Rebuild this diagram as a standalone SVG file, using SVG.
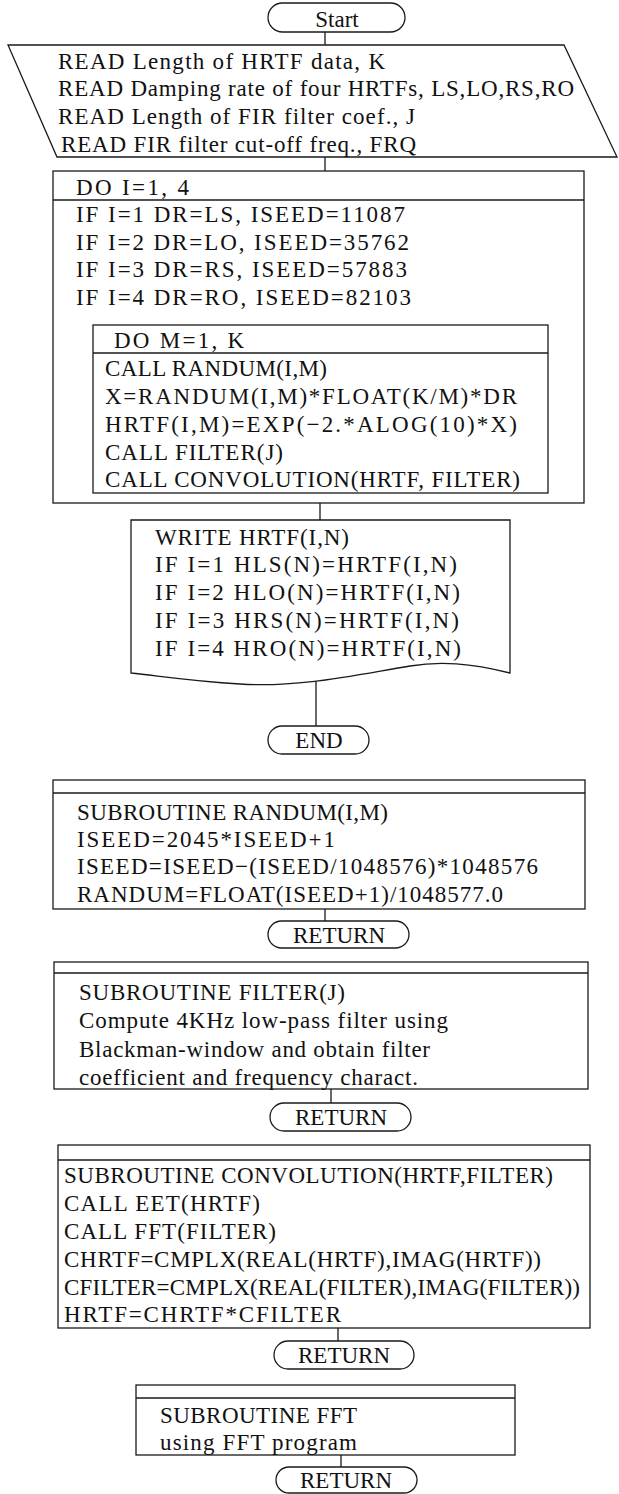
<svg xmlns="http://www.w3.org/2000/svg" width="619" height="1494" viewBox="0 0 619 1494">
<style>
.s{fill:none;stroke:#1a1a1a;stroke-width:1.3}
.w{fill:#fff;stroke:#1a1a1a;stroke-width:1.3}
text{font-family:"Liberation Serif","Times New Roman",serif;font-size:23px;fill:#111}
.m{text-anchor:middle}
</style>
<rect width="619" height="1494" fill="#fff"/>
<g id="connectors" class="s">
<line x1="325" y1="32" x2="325" y2="45"/>
<line x1="325" y1="157" x2="325" y2="171"/>
<line x1="320" y1="503" x2="320" y2="520"/>
<line x1="316" y1="678" x2="316" y2="726"/>
<line x1="325" y1="909" x2="325" y2="921"/>
<line x1="331" y1="1089" x2="331" y2="1103"/>
<line x1="338" y1="1328" x2="338" y2="1341"/>
<line x1="341" y1="1455" x2="341" y2="1467"/>
</g>
<g id="start">
<rect class="w" x="268" y="3" width="137" height="29" rx="14.5"/>
<text class="m" x="337" y="27">Start</text>
</g>
<g id="read">
<polygon class="w" points="8,45 564,45 617,157 57,157"/>
<text x="58" y="69" textLength="327" lengthAdjust="spacing">READ Length of HRTF data, K</text>
<text x="58" y="96" textLength="516" lengthAdjust="spacing">READ Damping rate of four HRTFs, LS,LO,RS,RO</text>
<text x="58" y="124" textLength="357" lengthAdjust="spacing">READ Length of FIR filter coef., J</text>
<text x="61" y="152" textLength="355" lengthAdjust="spacing">READ FIR filter cut-off freq., FRQ</text>
</g>
<g id="loopI">
<rect class="w" x="53" y="171" width="531" height="332"/>
<line class="s" x1="53" y1="200" x2="584" y2="200"/>
<text x="76" y="195" textLength="113" lengthAdjust="spacing">DO I=1, 4</text>
<text x="76" y="222" textLength="329" lengthAdjust="spacing">IF I=1 DR=LS, ISEED=11087</text>
<text x="76" y="250" textLength="333" lengthAdjust="spacing">IF I=2 DR=LO, ISEED=35762</text>
<text x="76" y="277" textLength="331" lengthAdjust="spacing">IF I=3 DR=RS, ISEED=57883</text>
<text x="76" y="305" textLength="335" lengthAdjust="spacing">IF I=4 DR=RO, ISEED=82103</text>
</g>
<g id="loopM">
<rect class="w" x="93" y="325" width="455" height="168"/>
<line class="s" x1="93" y1="353" x2="548" y2="353"/>
<text x="114" y="348" textLength="130" lengthAdjust="spacing">DO M=1, K</text>
<text x="105" y="376" textLength="222" lengthAdjust="spacing">CALL RANDUM(I,M)</text>
<text x="105" y="404" textLength="412" lengthAdjust="spacing">X=RANDUM(I,M)*FLOAT(K/M)*DR</text>
<text x="105" y="432" textLength="412" lengthAdjust="spacing">HRTF(I,M)=EXP(−2.*ALOG(10)*X)</text>
<text x="105" y="460" textLength="178" lengthAdjust="spacing">CALL FILTER(J)</text>
<text x="105" y="487" textLength="415" lengthAdjust="spacing">CALL CONVOLUTION(HRTF, FILTER)</text>
</g>
<g id="write">
<path class="w" d="M131,520 H510 V673 C470,663 440,661 410,666 C360,674 300,688 240,684 C190,681 160,676 131,673 Z"/>
<text x="155" y="545" textLength="194" lengthAdjust="spacing">WRITE HRTF(I,N)</text>
<text x="155" y="572" textLength="302" lengthAdjust="spacing">IF I=1 HLS(N)=HRTF(I,N)</text>
<text x="155" y="600" textLength="305" lengthAdjust="spacing">IF I=2 HLO(N)=HRTF(I,N)</text>
<text x="155" y="628" textLength="304" lengthAdjust="spacing">IF I=3 HRS(N)=HRTF(I,N)</text>
<text x="155" y="656" textLength="306" lengthAdjust="spacing">IF I=4 HRO(N)=HRTF(I,N)</text>
</g>
<g id="end">
<rect class="w" x="268" y="726" width="101" height="28" rx="14"/>
<text class="m" x="319" y="748">END</text>
</g>
<g id="randum">
<rect class="w" x="53" y="780" width="532" height="129"/>
<line class="s" x1="53" y1="793" x2="585" y2="793"/>
<text x="77" y="820" textLength="311" lengthAdjust="spacing">SUBROUTINE RANDUM(I,M)</text>
<text x="77" y="847" textLength="258" lengthAdjust="spacing">ISEED=2045*ISEED+1</text>
<text x="77" y="874" textLength="461" lengthAdjust="spacing">ISEED=ISEED−(ISEED/1048576)*1048576</text>
<text x="77" y="902" textLength="426" lengthAdjust="spacing">RANDUM=FLOAT(ISEED+1)/1048577.0</text>
</g>
<g id="return1">
<rect class="w" x="268" y="921" width="141" height="27" rx="13.5"/>
<text class="m" x="339" y="943">RETURN</text>
</g>
<g id="filter">
<rect class="w" x="54" y="962" width="534" height="127"/>
<line class="s" x1="54" y1="973" x2="588" y2="973"/>
<text x="79" y="1000" textLength="266" lengthAdjust="spacing">SUBROUTINE FILTER(J)</text>
<text x="79" y="1028" textLength="369" lengthAdjust="spacing">Compute 4KHz low-pass filter using</text>
<text x="79" y="1057" textLength="351" lengthAdjust="spacing">Blackman-window and obtain filter</text>
<text x="79" y="1085" textLength="339" lengthAdjust="spacing">coefficient and frequency charact.</text>
</g>
<g id="return2">
<rect class="w" x="270" y="1103" width="141" height="28" rx="14"/>
<text class="m" x="341" y="1125">RETURN</text>
</g>
<g id="convolution">
<rect class="w" x="58" y="1145" width="532" height="183"/>
<line class="s" x1="58" y1="1160" x2="590" y2="1160"/>
<text x="64" y="1183" textLength="489" lengthAdjust="spacing">SUBROUTINE CONVOLUTION(HRTF,FILTER)</text>
<text x="64" y="1211" textLength="196" lengthAdjust="spacing">CALL EET(HRTF)</text>
<text x="64" y="1239" textLength="212" lengthAdjust="spacing">CALL FFT(FILTER)</text>
<text x="64" y="1267" textLength="477" lengthAdjust="spacing">CHRTF=CMPLX(REAL(HRTF),IMAG(HRTF))</text>
<text x="64" y="1295" textLength="516" lengthAdjust="spacing">CFILTER=CMPLX(REAL(FILTER),IMAG(FILTER))</text>
<text x="64" y="1322" textLength="277" lengthAdjust="spacing">HRTF=CHRTF*CFILTER</text>
</g>
<g id="return3">
<rect class="w" x="274" y="1341" width="140" height="28" rx="14"/>
<text class="m" x="344" y="1363">RETURN</text>
</g>
<g id="fft">
<rect class="w" x="136" y="1385" width="379" height="70"/>
<line class="s" x1="136" y1="1398" x2="515" y2="1398"/>
<text x="160" y="1423" textLength="197" lengthAdjust="spacing">SUBROUTINE FFT</text>
<text x="160" y="1450" textLength="197" lengthAdjust="spacing">using FFT program</text>
</g>
<g id="return4">
<rect class="w" x="276" y="1467" width="141" height="26" rx="13"/>
<text class="m" x="346" y="1488">RETURN</text>
</g>
</svg>
